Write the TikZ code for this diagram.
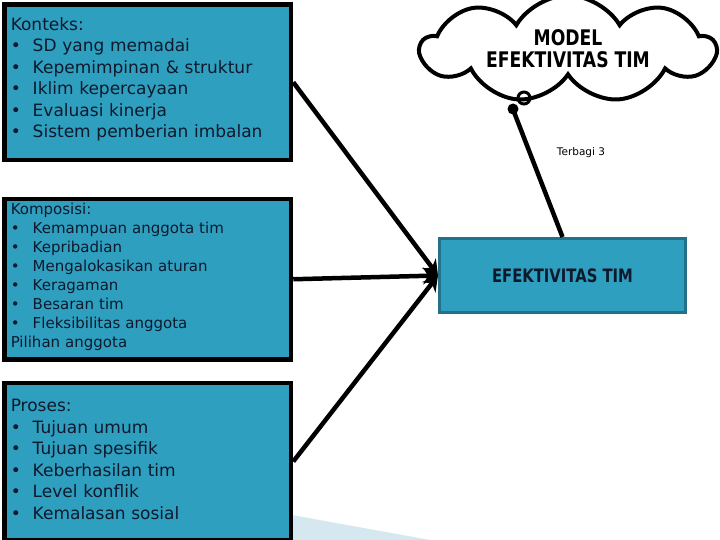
\documentclass[tikz,border=0pt]{standalone}
\usepackage{fontspec}
\setmainfont{DejaVu Sans}
\newfontfamily\tightfont[FakeStretch=0.8]{DejaVu Sans}
\usetikzlibrary{arrows.meta,shapes.symbols,positioning}
\definecolor{tealfill}{RGB}{46,159,190}
\definecolor{tealedge}{RGB}{36,112,138}
\definecolor{wedgeblue}{RGB}{214,232,239}
\definecolor{boxtext}{RGB}{15,25,45}
\newcommand{\itm}[1]{\makebox[22pt][l]{\textbullet}#1}

\begin{document}
\begin{tikzpicture}[x=1pt,y=-1pt,
	infobox/.style={draw=black,line width=4.5pt,fill=tealfill,text=boxtext,anchor=north west,
		minimum width=286.5pt,text width=274pt,align=left,inner xsep=6pt},
	flow/.style={line width=4.5pt,-{Stealth[length=15pt,width=17pt,inset=5pt]}}]
	\fill[white] (0,0) rectangle (720,540);
	\useasboundingbox (0,0) rectangle (720,540);
	\fill[wedgeblue] (292,515)--(430,540)--(292,540)--cycle;
	% left boxes
	\node[infobox,minimum height=155.5pt,font=\fontsize{17}{21.5}\selectfont] (konteks) at (2.25,2.25)
		{Konteks:\\ \itm{SD yang memadai}\\ \itm{Kepemimpinan \& struktur}\\ \itm{Iklim kepercayaan}\\ \itm{Evaluasi kinerja}\\ \itm{Sistem pemberian imbalan}\\[-12pt]\mbox{}};
	\node[infobox,minimum height=160pt,inner ysep=2pt,font=\fontsize{15}{19}\selectfont] (komposisi) at (2.25,197)
		{Komposisi:\\ \itm{Kemampuan anggota tim}\\ \itm{Kepribadian}\\ \itm{Mengalokasikan aturan}\\ \itm{Keragaman}\\ \itm{Besaran tim}\\ \itm{Fleksibilitas anggota}\\ Pilihan anggota\\[-11pt]\mbox{}};
	\node[infobox,minimum height=157.5pt,font=\fontsize{17}{21.5}\selectfont] (proses) at (2.25,380.5)
		{Proses:\\ \itm{Tujuan umum}\\ \itm{Tujuan spesifik}\\ \itm{Keberhasilan tim}\\ \itm{Level konflik}\\ \itm{Kemalasan sosial}\\[-17.5pt]\mbox{}};
	% target
	\node[draw=tealedge,line width=3pt,fill=tealfill,text=boxtext,minimum width=246pt,minimum height=74pt,
		font=\tightfont\bfseries\fontsize{18.5}{19}\selectfont] (efek) at (562.5,275.5) {EFEKTIVITAS TIM};
	\node[cloud,cloud ignores aspect,draw,line width=4pt,fill=white,cloud puffs=9,cloud puff arc=120,
		minimum width=294pt,minimum height=90pt,align=center,
		font=\tightfont\bfseries\fontsize{21.5}{22}\selectfont] (model) at (568,49) {MODEL\\EFEKTIVITAS TIM};
	\node[font=\fontsize{10.5}{12}\selectfont] (terbagi) at (581,153) {Terbagi 3};
	% callout tail
	\draw[line width=3pt] (524,98) circle[radius=6pt];
	\fill (513,109) circle[radius=5.5pt];
	\coordinate (tail) at (514,112);
	\draw[line width=4.5pt] (tail)--(efek.north);
	% arrows
	\draw[flow] (konteks.east)--(efek.west);
	\draw[flow] (komposisi.east)--(efek.west);
	\draw[flow] (proses.east)--(efek.west);
\end{tikzpicture}
\end{document}
